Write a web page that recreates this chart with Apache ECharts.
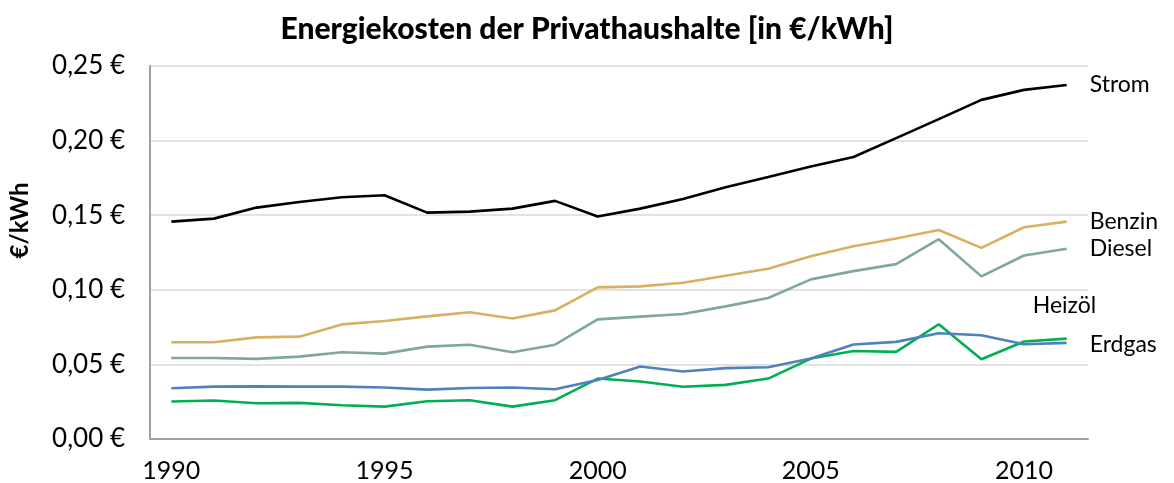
<!DOCTYPE html>
<html>
<head>
<meta charset="utf-8">
<script src="https://cdn.jsdelivr.net/npm/echarts@6/dist/echarts.min.js"></script>
<style>
html,body{margin:0;padding:0;background:#fff;}
#chart{width:1174px;height:483px;}
</style>
</head>
<body>
<div id="chart"></div>
<script>
var years = ['1990','1991','1992','1993','1994','1995','1996','1997','1998','1999','2000','2001','2002','2003','2004','2005','2006','2007','2008','2009','2010','2011'];
var strom  = [0.1457,0.1477,0.1551,0.1589,0.1620,0.1634,0.1517,0.1524,0.1544,0.1596,0.1491,0.1544,0.1609,0.1687,0.1756,0.1827,0.1890,0.2017,0.2144,0.2273,0.2340,0.2373];
var benzin = [0.0648,0.0648,0.0681,0.0686,0.0768,0.0791,0.0822,0.0849,0.0808,0.0862,0.1016,0.1023,0.1047,0.1094,0.1141,0.1225,0.1292,0.1344,0.1401,0.1281,0.1419,0.1457];
var diesel = [0.0543,0.0543,0.0537,0.0552,0.0581,0.0572,0.0619,0.0632,0.0581,0.0632,0.0802,0.0820,0.0838,0.0889,0.0945,0.1070,0.1125,0.1172,0.1339,0.1090,0.1230,0.1275];
var heizoel = [0.0251,0.0258,0.0240,0.0242,0.0226,0.0217,0.0253,0.0260,0.0217,0.0260,0.0405,0.0385,0.0350,0.0363,0.0405,0.0539,0.0590,0.0584,0.0769,0.0535,0.0653,0.0673];
var erdgas = [0.0340,0.0351,0.0353,0.0351,0.0351,0.0345,0.0331,0.0342,0.0345,0.0333,0.0396,0.0486,0.0452,0.0475,0.0481,0.0539,0.0633,0.0651,0.0709,0.0695,0.0635,0.0644];

var FONT = 'Lato';
function mk(name, data, color, off) {
  return {
    name: name, type: 'line', data: data, symbol: 'none',
    lineStyle: { color: color, width: 2.6 },
    itemStyle: { color: color },
    emphasis: { disabled: true },
    endLabel: {
      show: true, formatter: name, color: '#000', fontFamily: FONT, fontSize: 23,
      distance: 23, offset: off || [0, 0]
    }
  };
}
var chart = echarts.init(document.getElementById('chart'), null, { renderer: 'canvas' });
chart.setOption({
  animation: false,
  backgroundColor: '#fff',
  title: {
    text: 'Energiekosten der Privathaushalte [in €/kWh]',
    left: 'center', top: 9,
    textStyle: { fontFamily: FONT, fontWeight: 900, fontSize: 30, color: '#000' }
  },
  grid: { left: 148, right: 86, top: 66, bottom: 43.5, containLabel: false },
  xAxis: {
    type: 'category', data: years, boundaryGap: true,
    axisLine: { lineStyle: { color: '#a0a0a0', width: 2 } },
    axisTick: { show: false },
    axisLabel: { interval: 4, color: '#000', fontFamily: FONT, fontSize: 25, margin: 19 }
  },
  yAxis: {
    type: 'value', min: 0, max: 0.25, interval: 0.05,
    name: '€/kWh', nameLocation: 'middle', nameGap: 118,
    nameTextStyle: { fontFamily: FONT, fontWeight: 'bold', fontSize: 24, color: '#000', padding: [0, 0, 0, 64] },
    axisLine: { show: true, lineStyle: { color: '#a0a0a0', width: 2 } },
    axisTick: { show: false },
    splitLine: { lineStyle: { color: '#e3e3e3', width: 2 } },
    axisLabel: {
      color: '#000', fontFamily: FONT, fontSize: 26, margin: 25,
      formatter: function (v) { return v.toFixed(2).replace('.', ',') + ' €'; }
    }
  },
  series: [
    mk('Strom', strom, '#000000'),
    mk('Benzin', benzin, '#d8b060'),
    mk('Diesel', diesel, '#7fa898'),
    mk('Heizöl', heizoel, '#00b050', [-57, -33]),
    mk('Erdgas', erdgas, '#4f81bd', [0, 2])
  ]
});
</script>
</body>
</html>
